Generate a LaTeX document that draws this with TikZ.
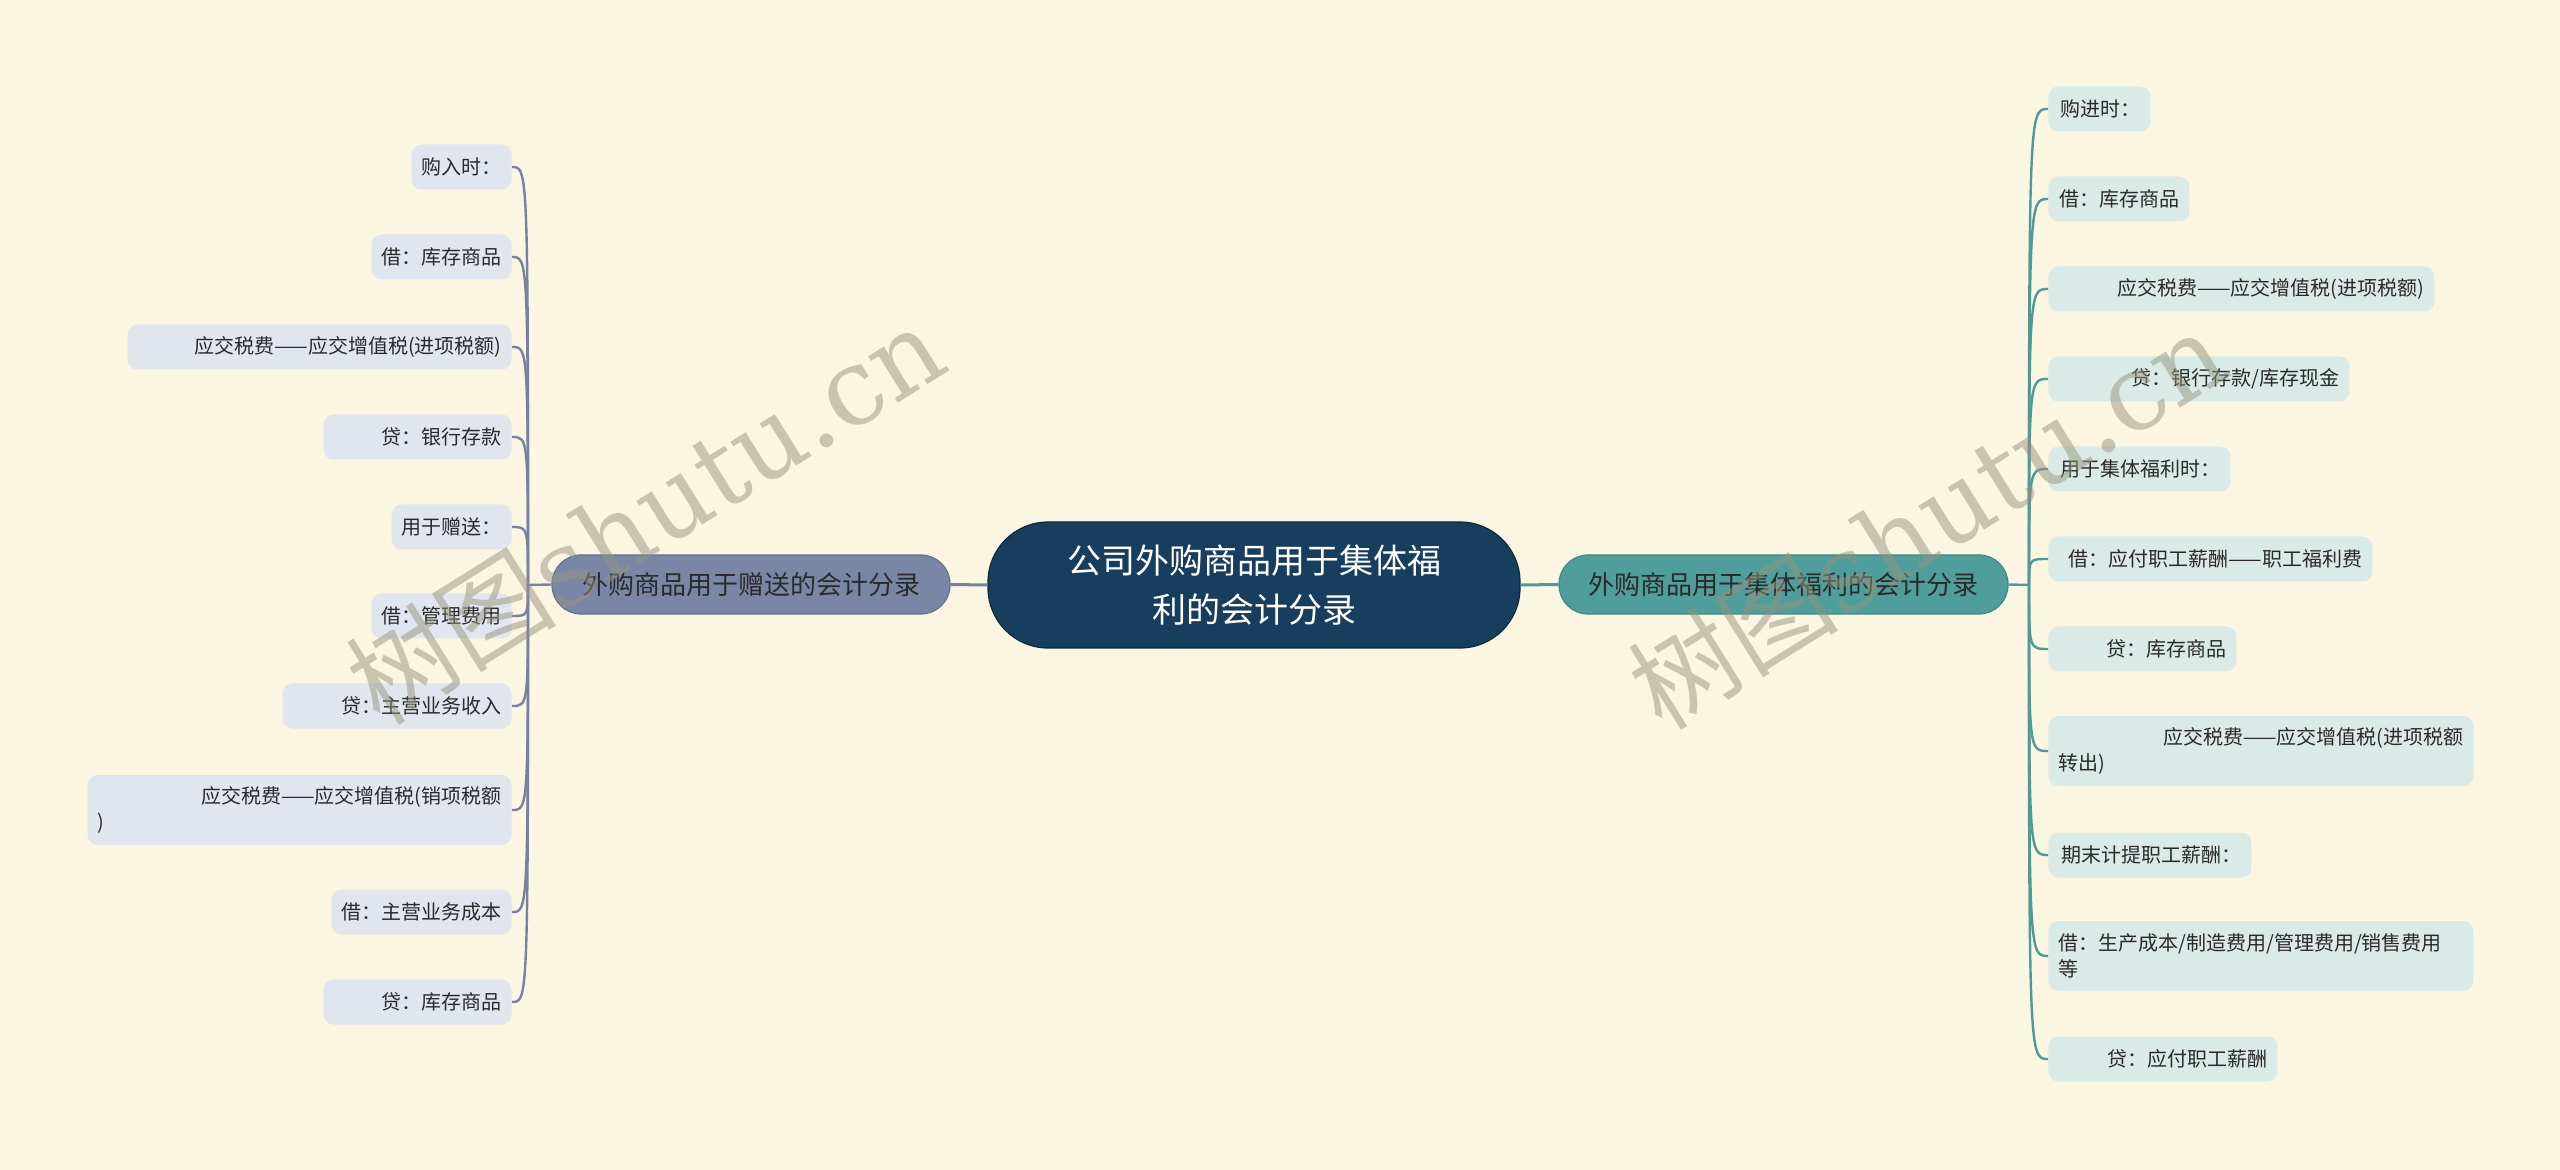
\documentclass[tikz,border=0pt]{standalone}
\usepackage{fontspec}
\setmainfont{Noto Sans CJK SC}
\newfontfamily\wmserif{DejaVu Serif}
\definecolor{bg}{HTML}{FBF6E1}
\definecolor{rootfill}{HTML}{173E5D}
\definecolor{rootdraw}{HTML}{0E2A42}
\definecolor{lbfill}{HTML}{7A86A6}
\definecolor{lbdraw}{HTML}{66718F}
\definecolor{lbline}{HTML}{7782A2}
\definecolor{rbfill}{HTML}{4F9E9B}
\definecolor{rbdraw}{HTML}{3F8A87}
\definecolor{rbline}{HTML}{4E9A98}
\definecolor{lleaf}{HTML}{E1E5EE}
\definecolor{rleaf}{HTML}{DAEAE7}
\definecolor{ink}{HTML}{2A2A2A}
\definecolor{wmc}{HTML}{96947F}
\tikzset{
  root/.style={fill=rootfill, draw=rootdraw, line width=0.6pt, rounded corners=30pt,
    minimum width=266pt, minimum height=63pt, inner sep=0pt, align=center,
    text=white, font=\fontsize{17}{24.5}\selectfont},
  lbranch/.style={fill=lbfill, draw=lbdraw, line width=0.6pt, rounded corners=14.5pt,
    minimum width=199pt, minimum height=29.5pt, inner sep=0pt, text=ink,
    font=\fontsize{13}{16}\selectfont},
  rbranch/.style={fill=rbfill, draw=rbdraw, line width=0.6pt, rounded corners=14.5pt,
    minimum width=224.5pt, minimum height=29.5pt, inner sep=0pt, text=ink,
    font=\fontsize{13}{16}\selectfont},
  leafbase/.style={rounded corners=5pt, inner xsep=5pt, inner ysep=0pt,
    minimum height=22.5pt, text=ink, font=\fontsize{10}{13}\selectfont, align=right},
  lleafs/.style={leafbase, fill=lleaf, anchor=east},
  rleafs/.style={leafbase, fill=rleaf, anchor=west},
  twoline/.style={minimum height=35pt, align=left},
  lmain/.style={draw=lbline, line width=1.5pt},
  rmain/.style={draw=rbline, line width=1.5pt},
  lconn/.style={draw=lbline, line width=1.2pt},
  rconn/.style={draw=rbline, line width=1.2pt},
  wm/.style={text=wmc, opacity=0.5, inner sep=0pt, rotate=32}
}
\begin{document}
\begin{tikzpicture}[x=0.5pt,y=-0.5pt]
\path[use as bounding box, fill=bg] (0,0) rectangle (2560,1170);

% central and branches
\node[root] (root) at (1254,585) {公司外购商品用于集体福\\利的会计分录};
\node[lbranch] (lb) at (751,584.5) {外购商品用于赠送的会计分录};
\node[rbranch] (rb) at (1783.5,584.5) {外购商品用于集体福利的会计分录};
\draw[lmain] (root.west) -- (lb.east);
\draw[rmain] (root.east) -- (rb.west);

\coordinate (jl) at (528,585);
\coordinate (jr) at (2029,585);

% left leaves
\node[lleafs, text width=40pt]  (l1)  at (512,167) {购入时：};
\node[lleafs, text width=60pt]  (l2)  at (512,257) {借：库存商品};
\node[lleafs, text width=182pt] (l3)  at (512,347) {应交税费——应交增值税(进项税额)};
\node[lleafs, text width=84pt]  (l4)  at (512,437) {贷：银行存款};
\node[lleafs, text width=50pt]  (l5)  at (512,527) {用于赠送：};
\node[lleafs, text width=60pt]  (l6)  at (512,616) {借：管理费用};
\node[lleafs, text width=104.5pt] (l7) at (512,706) {贷：主营业务收入};
\node[lleafs, twoline, text width=202pt] (l8) at (512,810) {\hspace*{\fill}应交税费——应交增值税(销项税额\\)};
\node[lleafs, text width=80pt]  (l9)  at (512,912) {借：主营业务成本};
\node[lleafs, text width=84pt]  (l10) at (512,1002) {贷：库存商品};

\draw[lconn] (lb.west) -- (jl);
\foreach \n in {l1,l2,l3,l4,l5,l6,l7,l8,l9,l10}
  \draw[lconn] (jl) .. controls (jl |- \n.east) .. (\n.east);

% right leaves
\node[rleafs, text width=41pt]  (r1)  at (2048,109) {购进时：};
\node[rleafs, text width=60.5pt] (r2) at (2048,199) {借：库存商品};
\node[rleafs, text width=183pt] (r3)  at (2048,289) {应交税费——应交增值税(进项税额)};
\node[rleafs, text width=140.5pt] (r4) at (2048,379) {贷：银行存款/库存现金};
\node[rleafs, text width=81pt]  (r5)  at (2048,469) {用于集体福利时：};
\node[rleafs, text width=152pt] (r6)  at (2048,559) {借：应付职工薪酬——职工福利费};
\node[rleafs, text width=84pt]  (r7)  at (2048,649) {贷：库存商品};
\node[rleafs, twoline, text width=202.5pt] (r8) at (2048,751) {\hspace*{\fill}应交税费——应交增值税(进项税额\\转出)};
\node[rleafs, text width=91.5pt] (r9)  at (2048,855) {期末计提职工薪酬：};
\node[rleafs, twoline, text width=202.5pt] (r10) at (2048,956) {借：生产成本/制造费用/管理费用/销售费用\\等};
\node[rleafs, text width=104.5pt] (r11) at (2048,1059) {贷：应付职工薪酬};

\draw[rconn] (rb.east) -- (jr);
\foreach \n in {r1,r2,r3,r4,r5,r6,r7,r8,r9,r10,r11}
  \draw[rconn] (jr) .. controls (jr |- \n.west) .. (\n.west);

% watermarks
\node[wm] (wm1) at (645,514) {\fontsize{53}{56}\selectfont 树图{\wmserif shutu.cn}};
\node[wm] (wm2) at (1927,519) {\fontsize{53}{56}\selectfont 树图{\wmserif shutu.cn}};
\end{tikzpicture}
\end{document}
